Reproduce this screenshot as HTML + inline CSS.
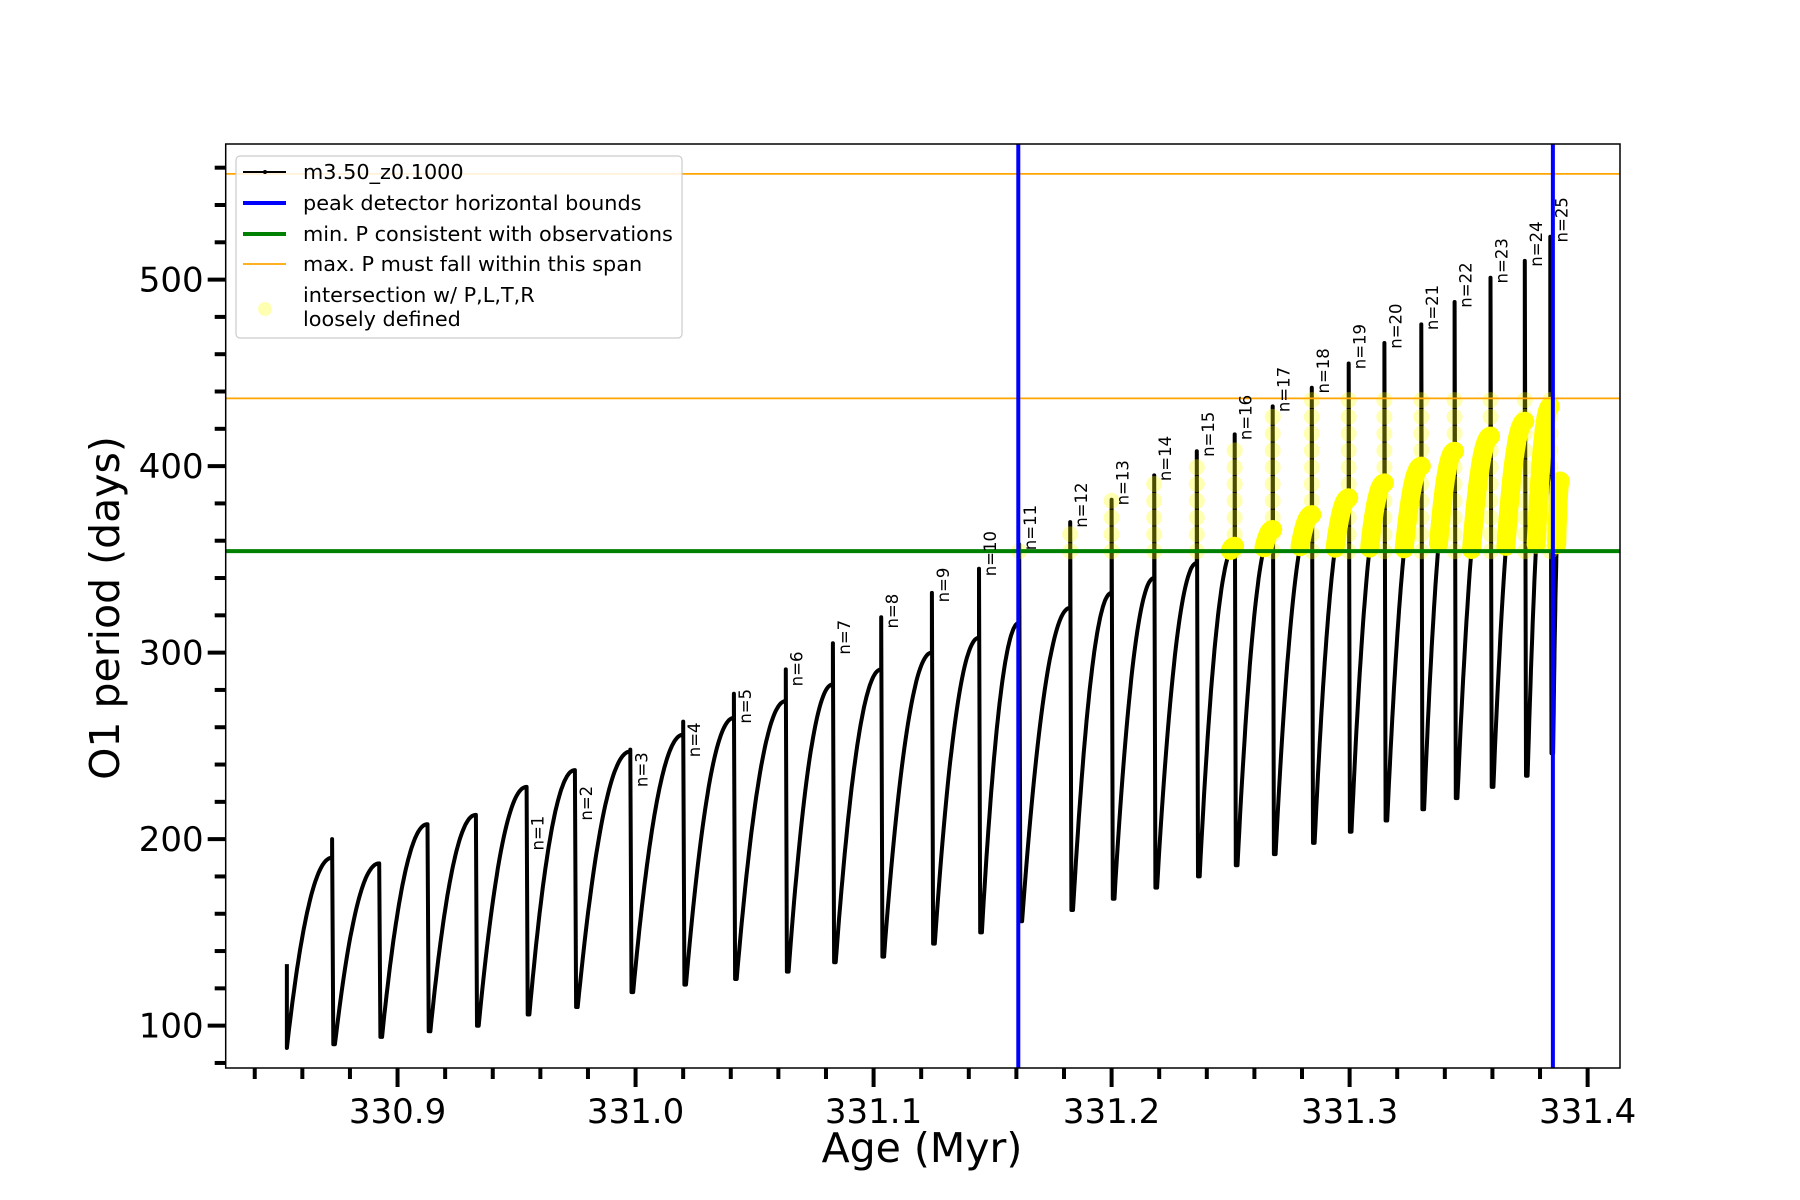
<!DOCTYPE html>
<html><head><meta charset="utf-8"><style>
html,body{margin:0;padding:0;background:#fff;}
svg{display:block;font-family:"DejaVu Sans","Liberation Sans",sans-serif;}
</style></head><body>
<svg id="chart" width="1800" height="1200" viewBox="0 0 1800 1200" xmlns="http://www.w3.org/2000/svg">
<rect x="0" y="0" width="1800" height="1200" fill="#fff"/>
<g id="plot"></g>
</svg>
<script>
const peakAges=[330.8725,330.8923,330.9126,330.9329,330.9542,330.9745,330.9978,331.0200,331.0413,331.0631,331.0829,331.1032,331.1245,331.1443,331.1612,331.1826,331.2000,331.2179,331.2358,331.2517,331.2677,331.2841,331.2996,331.3146,331.3301,331.3441,331.3592,331.3736,331.3843];
const arcPeaks=[190,187,208,213,228,237,247,256,265,274,283,291,300,308,316,324,332,340,348,357,366,374,383,391,400,408,416,424,432];
const spikeTops=[200,187,208,213,228,237,248,263,278,291,305,319,332,345,358,370,382,395,408,417,432,442,455,466,476,488,501,510,523];
const troughs=[90,94,97,100,106,110,118,122,125,129,134,137,144,150,156,162,168,174,180,186,192,198,204,210,216,222,228,234,246];
const labelVals=[195,211,229,245,263,283,300,314,328,342,356,368,380,393,406,415,430,440,453,464,474,486,499,508,521];
const startAge=330.8535, startVal=88, startSpike=133, endAge=331.3885, endVal=392;
const minP=354.4, maxPLow=436.3, maxPHigh=556.7;
const blueAges=[331.1608,331.3854];
const xTicks=[330.9,331.0,331.1,331.2,331.3,331.4];
const yTicks=[100,200,300,400,500];

const L=225.7,R=1620,T=144,B=1068;
const X0=330.8278,X1=331.4136,Y0=77.3,Y1=572.7;
const xs=v=>L+(v-X0)/(X1-X0)*(R-L);
const ys=v=>B-(v-Y0)/(Y1-Y0)*(B-T);
const NS='http://www.w3.org/2000/svg';
const svg=document.getElementById('chart');
const plot=document.getElementById('plot');
function mk(tag,attrs,parent){const e=document.createElementNS(NS,tag);for(const k in attrs)e.setAttribute(k,attrs[k]);(parent||svg).appendChild(e);return e;}

const arcs=[];
for(let i=0;i<=peakAges.length;i++){
  const x0=i==0?startAge:peakAges[i-1]+0.0012;
  const y0=i==0?startVal:troughs[i-1];
  const x1=i<peakAges.length?peakAges[i]:endAge;
  const y1=i<peakAges.length?arcPeaks[i]:endVal;
  const pts=[];
  for(let k=0;k<=40;k++){const t=k/40;pts.push([x0+(x1-x0)*t,y0+(y1-y0)*(1-Math.pow(1-t,2.1))]);}
  arcs.push(pts);
}
let d='M'+xs(startAge)+','+ys(startSpike)+'L'+xs(startAge)+','+ys(startVal);
arcs.forEach((pts,i)=>{
  pts.forEach(p=>{d+='L'+xs(p[0]).toFixed(1)+','+ys(p[1]).toFixed(1);});
  if(i<peakAges.length){
    d+='L'+xs(peakAges[i]).toFixed(1)+','+ys(spikeTops[i]).toFixed(1);
    d+='L'+xs(peakAges[i]+0.0005).toFixed(1)+','+ys(troughs[i]).toFixed(1);
  }
});
const series=mk('path',{d:d,fill:'none',stroke:'#000','stroke-width':4,'stroke-linejoin':'round'},plot);



const yel=mk('g',{},plot);


arcs.forEach((pts,i)=>{
  const sel=pts.filter(p=>p[1]>=minP);
  if(sel.length>1){
    let dd='';sel.forEach((p,k)=>{dd+=(k?'L':'M')+xs(p[0]).toFixed(1)+','+ys(p[1]).toFixed(1);});
    const pl=mk('path',{d:dd,fill:'none',stroke:'#ffff00','stroke-width':19,'stroke-linecap':'round','stroke-linejoin':'round'},yel);
    
    
  }
  if(i<peakAges.length && spikeTops[i]>=minP){
    const top=Math.min(spikeTops[i],maxPLow);
    for(let v=minP;v<=top;v+=9){
      const c=mk('circle',{cx:xs(peakAges[i]),cy:ys(v),r:8,fill:'#ffff00','fill-opacity':0.3},yel);
      
      
    }
  }
});

[maxPHigh,maxPLow].forEach(v=>{
  const l=mk('line',{x1:L,x2:R,y1:ys(v),y2:ys(v),stroke:'#ffa500','stroke-width':1.8});
  
  
});
const g=mk('line',{x1:L,x2:R,y1:ys(minP),y2:ys(minP),stroke:'#008000','stroke-width':4});


blueAges.forEach(v=>{
  const l=mk('line',{x1:xs(v),x2:xs(v),y1:T,y2:B,stroke:'#0000ff','stroke-width':4});
  
  
});

labelVals.forEach((v,j)=>{
  const i=j+4;
  const x=xs(peakAges[i])+17, y=ys(v)+2;
  const t=mk('text',{x:x,y:y,transform:`rotate(-90 ${x} ${y})`,'font-size':16.5,fill:'#000'});
  t.textContent='n='+(j+1);
  
  
});

const fr=mk('rect',{x:L,y:T,width:R-L,height:B-T,fill:'none',stroke:'#000','stroke-width':1.5});



for(let v=80;v<=570;v+=20){
  const major=v%100==0;
  const l=mk('line',{x1:L-(major?18:11),x2:L,y1:ys(v),y2:ys(v),stroke:'#000','stroke-width':4});
  
  
}
yTicks.forEach(v=>{
  const t=mk('text',{x:L-22,y:ys(v)+12,'text-anchor':'end','font-size':34,fill:'#000'});
  t.textContent=v;
  
  
});
for(let k=0;k<=29;k++){
  const v=330.84+k*0.02; if(v>X1)break;
  const major=Math.abs(Math.round(v*10)-v*10)<1e-6;
  const l=mk('line',{x1:xs(v),x2:xs(v),y1:B,y2:B+(major?19:11),stroke:'#000','stroke-width':4});
  
  
}
xTicks.forEach(v=>{
  const t=mk('text',{x:xs(v),y:B+55,'text-anchor':'middle','font-size':34,fill:'#000'});
  t.textContent=v.toFixed(1);
  
  
});
const xt=mk('text',{x:922,y:1162,'text-anchor':'middle','font-size':41,fill:'#000'});
xt.textContent='Age (Myr)';


const yt=mk('text',{x:119,y:608,'text-anchor':'middle','font-size':41,fill:'#000',transform:'rotate(-90 119 608)'});
yt.textContent='O1 period (days)';



const lg=mk('g',{});


mk('rect',{x:236,y:156,width:446,height:182,rx:4,fill:'#fff','fill-opacity':0.85,stroke:'#ccc','stroke-width':1.2},lg);
const items=[['m3.50_z0.1000',172,'#000',2],['peak detector horizontal bounds',203,'#0000ff',4],['min. P consistent with observations',234,'#008000',4],['max. P must fall within this span',264,'#ffa500',1.8]];
items.forEach(it=>{
  const e=mk('g',{},lg);
  
  
  mk('line',{x1:243,x2:286,y1:it[1],y2:it[1],stroke:it[2],'stroke-width':it[3]},e);
  if(it[0]==='m3.50_z0.1000')mk('circle',{cx:265,cy:it[1],r:2,fill:'#000'},e);
  const t=mk('text',{x:303,y:it[1]+7,'font-size':20.8,fill:'#000'},e);
  t.textContent=it[0];
});
const e5=mk('g',{},lg);


mk('circle',{cx:265,cy:309,r:7,fill:'#ffff00','fill-opacity':0.3},e5);
const t5=mk('text',{x:303,y:302,'font-size':20.8,fill:'#000'},e5);t5.textContent='intersection w/ P,L,T,R';
const t6=mk('text',{x:303,y:326,'font-size':20.8,fill:'#000'},e5);t6.textContent='loosely defined';
</script>
</body></html>
